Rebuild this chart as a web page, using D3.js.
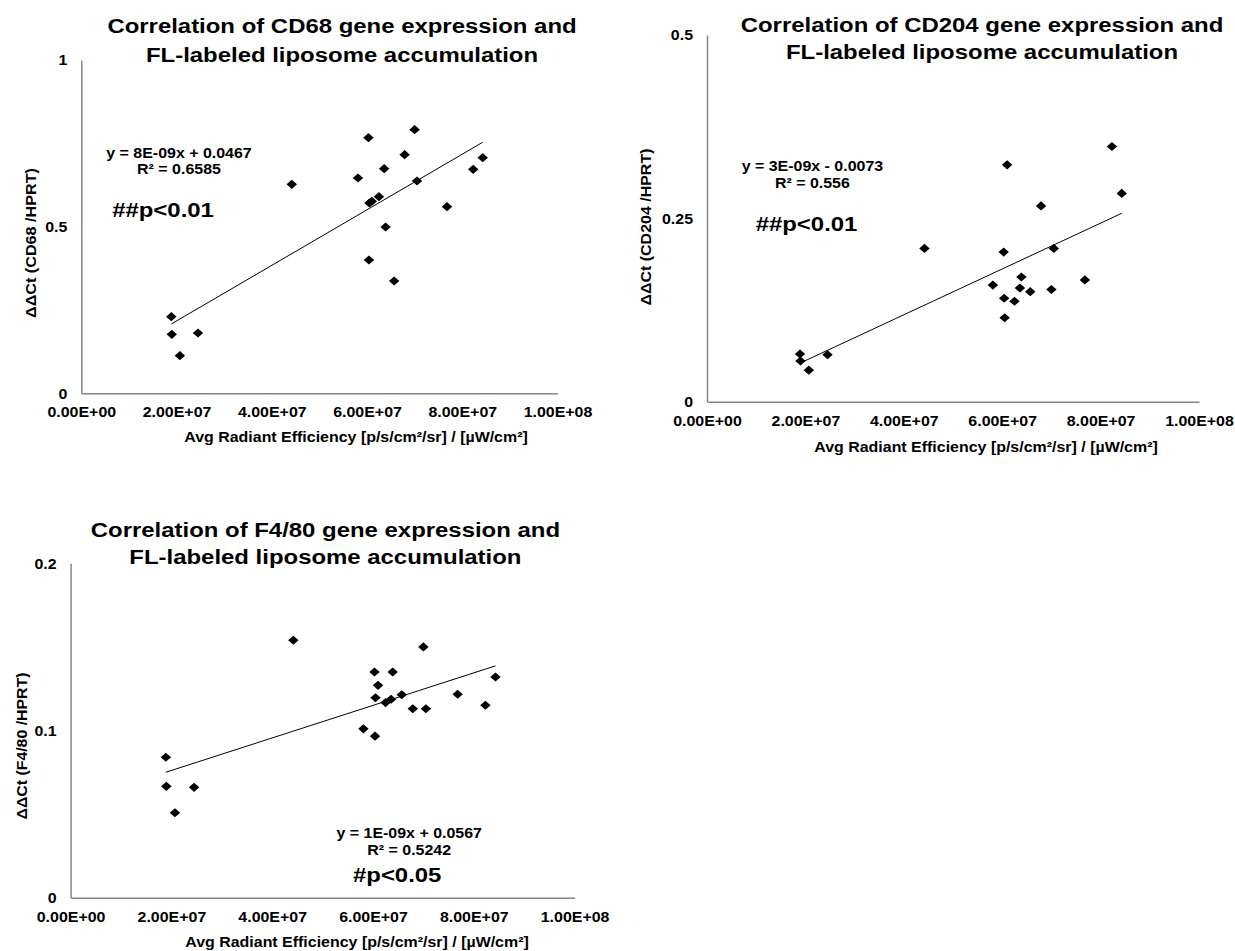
<!DOCTYPE html>
<html>
<head>
<meta charset="utf-8">
<script src="https://cdn.jsdelivr.net/npm/d3@7"></script>
<style>
body { margin: 0; background: #fff; }
text { font-family: "Liberation Sans", Arial, sans-serif; font-weight: bold; fill: #000; }
</style>
</head>
<body>
<svg id="chart"></svg>
<script>
// avg radiant efficiency per animal (shared x of all three panels)
var radiance = [1.89e7, 1.90e7, 2.07e7, 2.45e7, 4.42e7, 5.81e7, 6.03e7, 6.04e7, 6.05e7, 6.10e7,
	6.25e7, 6.36e7, 6.39e7, 6.57e7, 6.79e7, 7.00e7, 7.05e7, 7.68e7, 8.23e7, 8.43e7];
var cd68 = [0.230, 0.177, 0.113, 0.181, 0.627, 0.646, 0.767, 0.400, 0.571, 0.576,
	0.590, 0.674, 0.499, 0.337, 0.716, 0.791, 0.637, 0.560, 0.672, 0.707];
var cd204 = [0.065, 0.0555, 0.043, 0.064, 0.209, 0.159, 0.204, 0.141, 0.1145, 0.323,
	0.137, 0.155, 0.170, 0.150, 0.267, 0.153, 0.209, 0.166, 0.348, 0.284];
var f480 = [0.084, 0.0666, 0.0508, 0.066, 0.154, 0.101, 0.135, 0.0966, 0.1196, 0.127,
	0.1167, 0.1187, 0.135, 0.1214, 0.113, 0.150, 0.113, 0.1217, 0.1151, 0.132];

var xTicks = [0, 2e7, 4e7, 6e7, 8e7, 1e8];
var yTicks = [[0, 0.5, 1], [0, 0.25, 0.5], [0, 0.1, 0.2]];
var titles = [
	["Correlation of CD68 gene expression and", "FL-labeled liposome accumulation"],
	["Correlation of CD204 gene expression and", "FL-labeled liposome accumulation"],
	["Correlation of F4/80 gene expression and", "FL-labeled liposome accumulation"]
];
var yLabels = ["\u0394\u0394Ct (CD68 /HPRT)", "\u0394\u0394Ct (CD204 /HPRT)", "\u0394\u0394Ct (F4/80 /HPRT)"];
var xLabel = "Avg Radiant Efficiency [p/s/cm\u00B2/sr] / [\u00B5W/cm\u00B2]";
var equations = [
	["y = 8E-09x + 0.0467", "R\u00B2 = 0.6585"],
	["y = 3E-09x - 0.0073", "R\u00B2 = 0.556"],
	["y = 1E-09x + 0.0567", "R\u00B2 = 0.5242"]
];
var pLabels = ["##p<0.01", "##p<0.01", "#p<0.05"];
var series = [cd68, cd204, f480];

var SX = 1.14; // the picture is a bit stretched sideways

var panels = [
	{left: 81.3, right: 557.5, top: 60, bottom: 393.3, titleX: 342, titleY: [33.3, 61.7],
		ylabX: 36, ylabY: 243, ylabLen: 150, eqX: 179, eqY: [158.3, 174.3], pX: 163, pY: 216.7, xlabX: 356, xlabY: 442},
	{left: 707, right: 1199, top: 35, bottom: 401.7, titleX: 982, titleY: [31.7, 59.3],
		ylabX: 651, ylabY: 227, ylabLen: 157, eqX: 812.4, eqY: [170.7, 188.3], pX: 806.5, pY: 231, xlabX: 986, xlabY: 452},
	{left: 70.6, right: 574.6, top: 563.3, bottom: 897.7, titleX: 325.4, titleY: [537.3, 564],
		ylabX: 27, ylabY: 746, ylabLen: 147, eqX: 409.2, eqY: [837.7, 855], pX: 397.2, pY: 881.5, xlabX: 357, xlabY: 947}
];

var svg = d3.select("#chart")
	.attr("width", 1235)
	.attr("height", 951);

var wideDiamond = {
	draw: function (context, size) {
		var h = Math.sqrt(size / 2), w = h * SX;
		context.moveTo(0, -h);
		context.lineTo(w, 0);
		context.lineTo(0, h);
		context.lineTo(-w, 0);
		context.closePath();
	}
};

function sci(d) {
	var parts = d.toExponential(2).split("e");
	var e = +parts[1];
	return parts[0] + "E" + (e < 0 ? "-" : "+") + (Math.abs(e) < 10 ? "0" : "") + Math.abs(e);
}

function fit(xs, ys) {
	var mx = d3.mean(xs), my = d3.mean(ys);
	var sxy = d3.sum(xs, function (v, k) { return (v - mx) * (ys[k] - my); });
	var sxx = d3.sum(xs, function (v) { return (v - mx) * (v - mx); });
	var b = sxy / sxx;
	return {b: b, a: my - b * mx};
}

function label(g, str, cx, cy, size) {
	g.append("text")
		.attr("transform", "translate(" + cx + "," + cy + ") scale(" + SX + ",1)")
		.attr("text-anchor", "middle")
		.attr("font-size", size)
		.text(str);
}

function drawPanel(p, i) {
	var ys = series[i];
	var ticks = yTicks[i];
	var x = d3.scaleLinear().domain([0, 1e8]).range([p.left, p.right]);
	var y = d3.scaleLinear().domain([0, ticks[ticks.length - 1]]).range([p.bottom, p.top]);
	var g = svg.append("g");

	var xa = g.append("g")
		.attr("transform", "translate(0," + p.bottom + ")")
		.call(d3.axisBottom(x).tickValues(xTicks).tickFormat(sci).tickSize(0))
		.attr("font-size", 14);
	xa.selectAll("text").attr("y", 24).attr("dy", null)
		.attr("transform", "scale(" + SX + ",1)");

	var ya = g.append("g")
		.attr("transform", "translate(" + p.left + ",0)")
		.call(d3.axisLeft(y).tickValues(ticks).tickFormat(d3.format("")).tickSize(0))
		.attr("font-size", 14);
	ya.selectAll("text").attr("x", -14 / SX).attr("dy", "0.35em")
		.attr("transform", "scale(" + SX + ",1)");

	g.selectAll(".domain").attr("stroke", "#868686").attr("stroke-width", 1.5);

	// trendline (least squares, like the spreadsheet)
	var t = fit(radiance, ys);
	var ext = d3.extent(radiance);
	g.append("line")
		.attr("x1", x(ext[0])).attr("y1", y(t.a + t.b * ext[0]))
		.attr("x2", x(ext[1])).attr("y2", y(t.a + t.b * ext[1]))
		.attr("stroke", "#000")
		.attr("stroke-width", 1);

	g.selectAll(".pt")
		.data(ys).enter().append("path")
			.attr("class", "pt")
			.attr("transform", function (d, k) { return "translate(" + x(radiance[k]) + "," + y(d) + ")"; })
			.attr("d", d3.symbol().type(wideDiamond).size(42))
			.attr("fill", "#000");

	label(g, titles[i][0], p.titleX, p.titleY[0], 21);
	label(g, titles[i][1], p.titleX, p.titleY[1], 21);
	label(g, equations[i][0], p.eqX, p.eqY[0], 14);
	label(g, equations[i][1], p.eqX, p.eqY[1], 14);
	label(g, pLabels[i], p.pX, p.pY, 21);
	label(g, xLabel, p.xlabX, p.xlabY, 14);

	g.append("text")
		.attr("transform", "translate(" + p.ylabX + "," + p.ylabY + ") rotate(-90)")
		.attr("text-anchor", "middle")
		.attr("font-size", 14)
		.attr("textLength", p.ylabLen)
		.attr("lengthAdjust", "spacingAndGlyphs")
		.text(yLabels[i]);
}

panels.forEach(drawPanel);
</script>
</body>
</html>
